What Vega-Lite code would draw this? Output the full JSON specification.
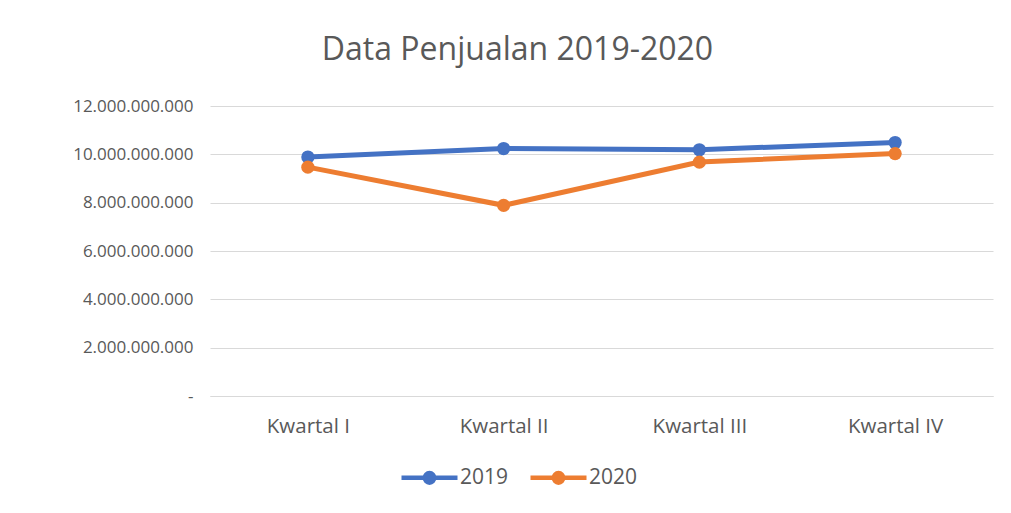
{
  "$schema": "https://vega.github.io/schema/vega-lite/v6.json",
  "autosize": "none",
  "width": 783,
  "height": 290,
  "padding": {"left": 210, "top": 106, "right": 18, "bottom": 117},
  "background": "white",
  "config": {
    "locale": {"number": {"decimal": ",", "thousands": ".", "grouping": [3], "currency": ["Rp", ""]}},
    "view": {"stroke": null},
    "font": "Open Sans"
  },
  "title": {
    "text": "Data Penjualan 2019-2020",
    "fontSize": 32,
    "font": "Open Sans",
    "fontWeight": "normal",
    "color": "#595959",
    "anchor": "middle",
    "dx": -84,
    "offset": 30
  },
  "data": {
    "values": [
      {"kwartal": "Kwartal I", "tahun": "2019", "nilai": 9890000000},
      {"kwartal": "Kwartal II", "tahun": "2019", "nilai": 10240000000},
      {"kwartal": "Kwartal III", "tahun": "2019", "nilai": 10190000000},
      {"kwartal": "Kwartal IV", "tahun": "2019", "nilai": 10490000000},
      {"kwartal": "Kwartal I", "tahun": "2020", "nilai": 9470000000},
      {"kwartal": "Kwartal II", "tahun": "2020", "nilai": 7890000000},
      {"kwartal": "Kwartal III", "tahun": "2020", "nilai": 9680000000},
      {"kwartal": "Kwartal IV", "tahun": "2020", "nilai": 10030000000}
    ]
  },
  "mark": {"type": "line", "strokeWidth": 5, "point": {"size": 175, "filled": true, "opacity": 1}},
  "encoding": {
    "x": {
      "field": "kwartal",
      "type": "nominal",
      "sort": ["Kwartal I", "Kwartal II", "Kwartal III", "Kwartal IV"],
      "scale": {"type": "point", "padding": 0.5},
      "axis": {
        "title": null,
        "labelAngle": 0,
        "labelFontSize": 20.5,
        "labelColor": "#595959",
        "labelFont": "Open Sans",
        "labelPadding": 20,
        "ticks": false,
        "domain": true,
        "domainColor": "#D9D9D9",
        "domainWidth": 1,
        "grid": false
      }
    },
    "y": {
      "field": "nilai",
      "type": "quantitative",
      "scale": {"domain": [0, 12000000000], "nice": false},
      "axis": {
        "title": null,
        "values": [0, 2000000000, 4000000000, 6000000000, 8000000000, 10000000000, 12000000000],
        "format": ",.0f",
        "labelExpr": "datum.value == 0 ? '-' : datum.label",
        "labelFontSize": 17,
        "labelColor": "#595959",
        "labelFont": "Open Sans",
        "labelPadding": 17,
        "ticks": false,
        "domain": false,
        "grid": true,
        "gridColor": "#D9D9D9",
        "gridWidth": 1
      }
    },
    "color": {
      "field": "tahun",
      "type": "nominal",
      "scale": {"domain": ["2019", "2020"], "range": ["#4472C4", "#ED7D31"]},
      "legend": {
        "title": null,
        "orient": "none",
        "direction": "horizontal",
        "legendX": 189,
        "legendY": 341,
        "labelFontSize": 21,
        "labelColor": "#595959",
        "labelFont": "Open Sans",
        "labelOffset": 0,
        "columnPadding": 12,
        "symbolType": "M-1,0L1,0M-0.17,0A0.17,0.17,0,1,1,0.17,0A0.17,0.17,0,1,1,-0.17,0Z",
        "symbolSize": 3136,
        "symbolStrokeWidth": 4.5,
        "symbolOpacity": 1,
        "encode": {
          "symbols": {
            "update": {
              "fill": {"scale": "color", "field": "value"},
              "stroke": {"scale": "color", "field": "value"},
              "opacity": {"value": 1}
            }
          }
        }
      }
    }
  }
}
